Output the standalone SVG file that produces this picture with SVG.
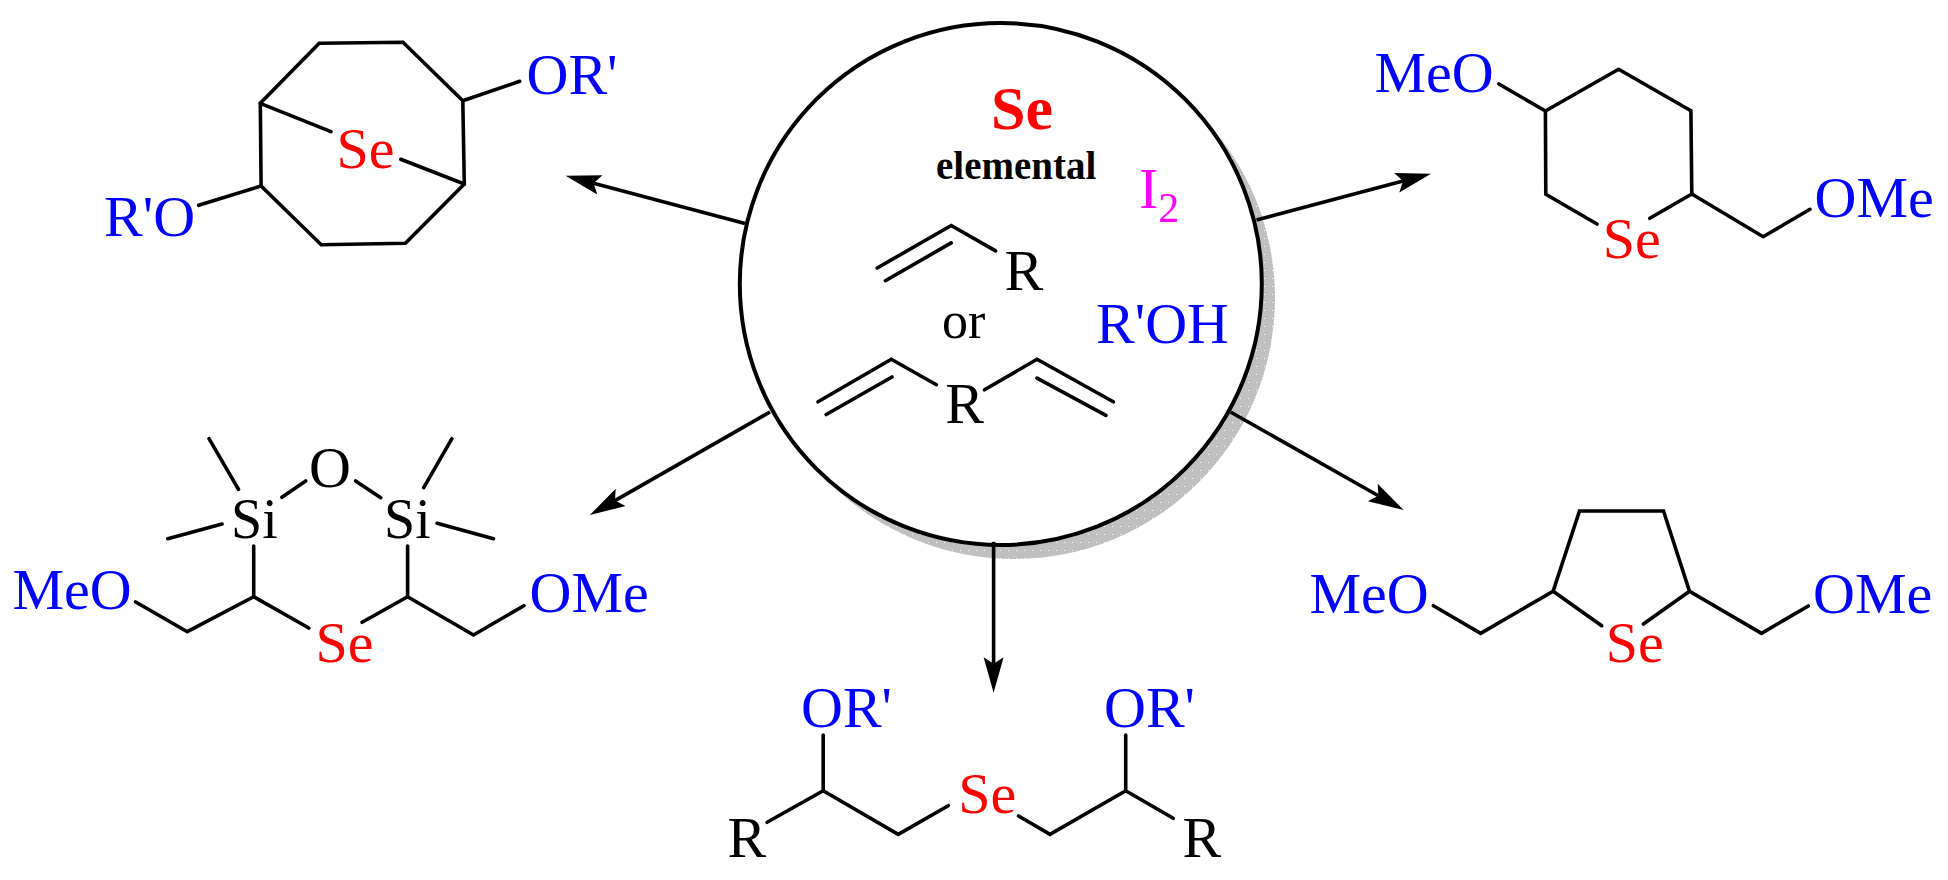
<svg xmlns="http://www.w3.org/2000/svg" width="1948" height="880" viewBox="0 0 1948 880">
<style>
text{font-family:"Liberation Serif","Times New Roman",serif;font-size:58px}
.k{fill:#000}.b{fill:#0000ff}.r{fill:#ff0000}.m{fill:#ff00ff}
.s{fill:none;stroke:#000;stroke-width:3.6;stroke-linecap:round;stroke-linejoin:miter}
.c{fill:none;stroke:#000;stroke-width:3.6;marker-end:url(#h)}
</style>
<defs>
<marker id="h" markerUnits="userSpaceOnUse" markerWidth="36" markerHeight="22" viewBox="0 0 36 22" refX="6.5" refY="10" orient="auto"><path d="M35.5,10L0,0L6.5,10L0,20Z" fill="#000"/></marker>
<pattern id="d" patternUnits="userSpaceOnUse" width="8" height="8"><rect width="8" height="8" fill="#c0c0c0"/><rect y="6" width="1" height="1" fill="#fff"/></pattern>
</defs>
<rect width="1948" height="880" fill="#fff"/>
<g id="reagents">
<circle cx="1014" cy="298" r="261" fill="url(#d)"/>
<circle cx="1000.8" cy="284" r="261" fill="#fff" stroke="#000" stroke-width="4"/>
<text class="r" x="991" y="129" style="font-size:62px;font-weight:bold">Se</text>
<text class="k" x="936" y="179" style="font-size:39px;font-weight:bold">elemental</text>
<text class="m" x="1139" y="208.4">I<tspan style="font-size:42px" dy="13.4">2</tspan></text>
<path class="s" d="M877.2,268L951.2,225.5L995.6,250.9M885.4,280.7L951.2,242.9"/>
<text class="k" x="1004.5" y="289.8">R</text>
<text class="k" x="942" y="338.2" style="font-size:52px">or</text>
<text class="b" x="1096" y="342.5">R'OH</text>
<path class="s" d="M818,401.8L891.3,359.3L936.4,384.7M826.2,414.5L892,377M984.5,389.8L1037,359.3L1113.3,401.8M1037,378.2L1105.9,415.3"/>
<text class="k" x="945.3" y="422.9">R</text>
</g>
<g id="connectors">
<line class="c" x1="745" y1="223.6" x2="593.6" y2="183.2"/>
<line class="c" x1="1256.5" y1="220" x2="1403" y2="181.1"/>
<line class="c" x1="770" y1="412" x2="615" y2="500.6"/>
<line class="c" x1="1230.5" y1="412" x2="1378.4" y2="495.7"/>
<line class="c" x1="993.6" y1="541.8" x2="993.6" y2="663.7"/>
</g>
<g id="bicyclic">
<path class="s" d="M319.2,43.3L403,42.3L462.8,100.7L464.3,184L405.4,243.3L321.2,244.7L261.1,186L260.3,103.3Z"/>
<path class="s" d="M260.3,103.3L331,131.7M464.3,184L400.7,159.3M462.8,100.7L519.7,81.3M261.1,186L198.6,205.3"/>
<text class="r" x="336.6" y="167.7">Se</text>
<text class="b" x="526.5" y="94">OR'</text>
<text class="b" x="104" y="235.7">R'O</text>
</g>
<g id="selenane">
<path class="s" d="M1498.9,84L1545.4,111L1618.6,69.3L1690.9,110.7L1691.8,194L1649.8,218.3M1691.8,194L1763.2,236.7L1810,209.3M1545.4,111L1545.8,194.3L1597,224"/>
<text class="b" x="1374.5" y="91.7">MeO</text>
<text class="r" x="1602.8" y="258.3">Se</text>
<text class="b" x="1814.5" y="216.7">OMe</text>
</g>
<g id="siloxane">
<path class="s" d="M209,438.7L238.5,489.3M167.8,538.7L222,524M281.9,497.3L305.7,481M355.6,481L380.8,497.7M451.9,438.7L423.7,487.7M437.1,523.3L493.5,538.7M253.7,546V596.7M407.6,546V596.7"/>
<path class="s" d="M135.7,602L187.3,631.7L253.7,596.7L308.8,628M362.1,622.3L407.6,596.7L473.5,635L523.9,605.7"/>
<text class="k" x="231" y="537.7" style="font-size:56px">Si</text>
<text class="k" x="309" y="486.7">O</text>
<text class="k" x="384" y="537.7" style="font-size:56px">Si</text>
<text class="b" x="12.5" y="609">MeO</text>
<text class="r" x="315.5" y="661.7">Se</text>
<text class="b" x="529.5" y="611.7">OMe</text>
</g>
<g id="selenolane">
<path class="s" d="M1433.4,605.7L1480.7,633.3L1553.1,591.3L1579.5,511H1663.5L1689.5,591.3L1761.5,633.3L1808.3,606M1553.1,591.3L1601.7,625.7M1689.5,591.3L1643.4,624"/>
<text class="b" x="1309.5" y="613.3">MeO</text>
<text class="r" x="1605.7" y="662.3">Se</text>
<text class="b" x="1813" y="613.3">OMe</text>
</g>
<g id="selenide">
<path class="s" d="M767.1,822.3L823.2,790.7V735M823.2,790.7L898.2,834.3L948.2,805.7M1018.6,816L1050,834.3L1125.7,790.7V735M1125.7,790.7L1173.2,818.3"/>
<text class="b" x="801" y="726.7">OR'</text>
<text class="b" x="1104" y="726.7">OR'</text>
<text class="k" x="727.5" y="856.7">R</text>
<text class="k" x="1182.5" y="856.7">R</text>
<text class="r" x="958.3" y="813.3">Se</text>
</g>
</svg>
